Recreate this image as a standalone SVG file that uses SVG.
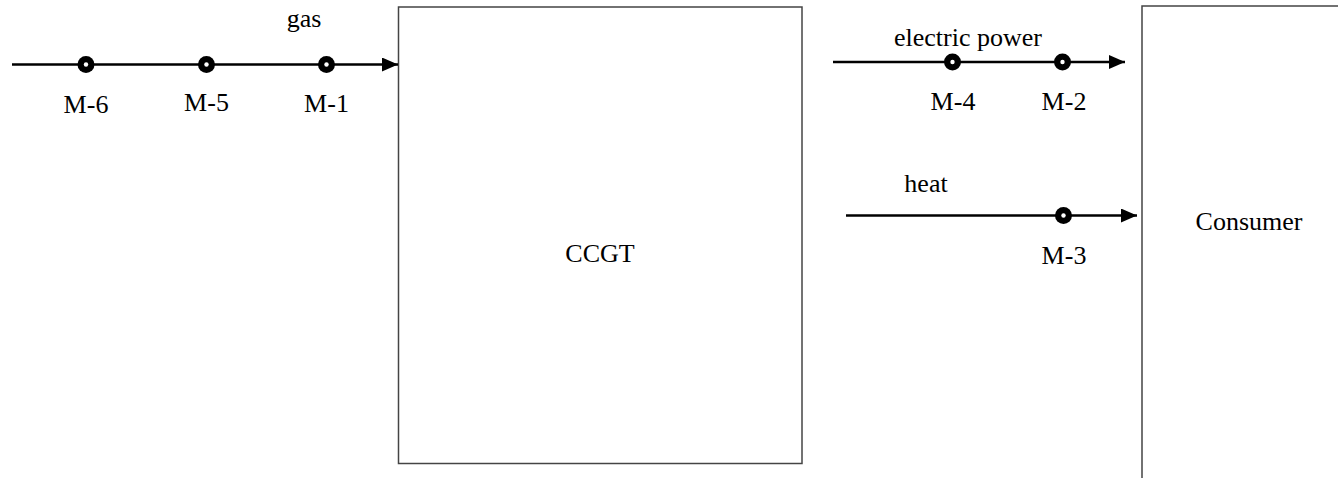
<svg xmlns="http://www.w3.org/2000/svg" width="1338" height="478" viewBox="0 0 1338 478">
  <defs>
    <marker id="arrow" markerUnits="userSpaceOnUse" markerWidth="16" markerHeight="14" refX="16" refY="7" orient="auto">
      <path d="M0,0 L16,7 L0,14 Z" fill="#000"/>
    </marker>
    <!-- measuring point: black ring with a white centre -->
    <g id="meter">
      <circle r="8.5" fill="#000"/>
      <circle r="2.2" fill="#fff"/>
    </g>
  </defs>
  <style>
    text { font-family: "Liberation Serif", "Times New Roman", serif; font-size: 26px; fill: #000; }
    .box { fill: #fff; stroke: #444; stroke-width: 1.5; }
    .flow { stroke: #000; stroke-width: 2.5; fill: none; marker-end: url(#arrow); }
  </style>
  <rect width="1338" height="478" fill="#fff"/>

  <g font-family="Liberation Serif, serif">
  <g id="ccgt">
    <rect class="box" x="398.5" y="7" width="403.5" height="456.5"/>
    <text x="600" y="262" text-anchor="middle">CCGT</text>
  </g>

  <g id="consumer">
    <rect class="box" x="1142" y="6" width="300" height="600"/>
    <text x="1249" y="230" text-anchor="middle">Consumer</text>
  </g>

  <g id="connectors">
    <!-- gas supply into the plant -->
    <line class="flow" x1="12" y1="64.5" x2="398" y2="64.5"/>
    <text x="304" y="27" text-anchor="middle">gas</text>
    <!-- electric power to the consumer -->
    <line class="flow" x1="833" y1="62" x2="1125" y2="62"/>
    <text x="968" y="46" text-anchor="middle">electric power</text>
    <!-- heat to the consumer -->
    <line class="flow" x1="846" y1="215.5" x2="1137" y2="215.5"/>
    <text x="926" y="192" text-anchor="middle">heat</text>
  </g>

  <g id="meters">
    <g id="m6"><use href="#meter" x="86" y="64.5"/><text x="86" y="113" text-anchor="middle">M-6</text></g>
    <g id="m5"><use href="#meter" x="206.5" y="64.5"/><text x="206.5" y="111" text-anchor="middle">M-5</text></g>
    <g id="m1"><use href="#meter" x="326.5" y="64.5"/><text x="326.5" y="111.5" text-anchor="middle">M-1</text></g>
    <g id="m4"><use href="#meter" x="952.5" y="62"/><text x="953" y="110" text-anchor="middle">M-4</text></g>
    <g id="m2"><use href="#meter" x="1062.5" y="62"/><text x="1064" y="110" text-anchor="middle">M-2</text></g>
    <g id="m3"><use href="#meter" x="1063.5" y="215.5"/><text x="1064" y="264" text-anchor="middle">M-3</text></g>
  </g>
  </g>
</svg>
